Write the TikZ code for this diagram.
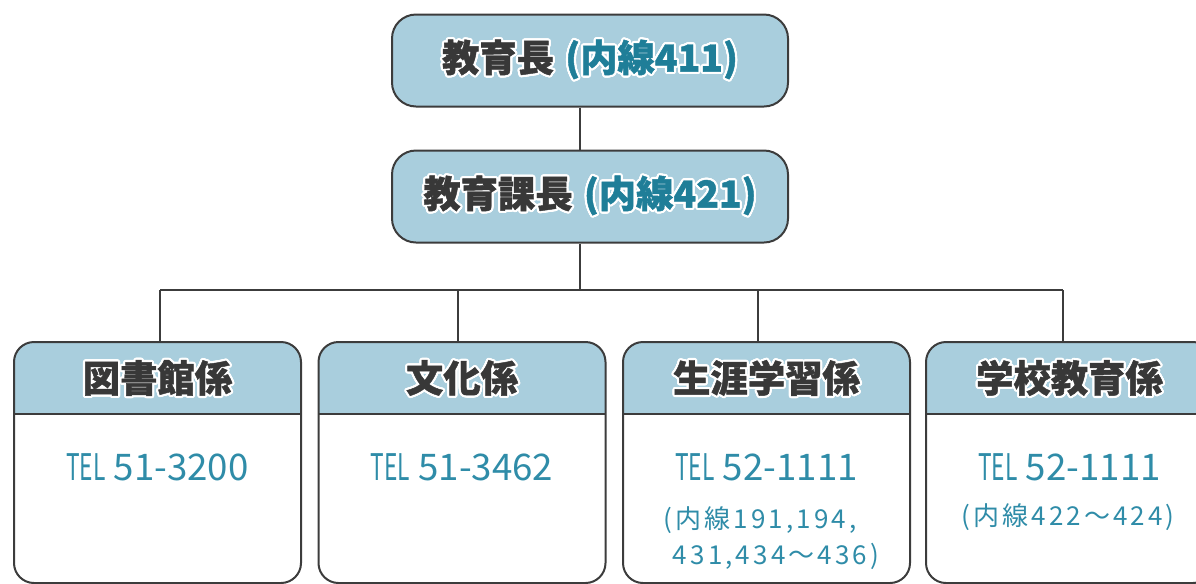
\documentclass[tikz,border=0pt]{standalone}
\usepackage{fontspec}
\usepackage[copies]{contour}
\usepackage{tikz}
\setmainfont{Noto Sans CJK JP}[BoldFeatures={FakeBold=1.2}]
\definecolor{headblue}{HTML}{A9CEDD}
\definecolor{linegray}{HTML}{3C3C3C}
\definecolor{textgray}{HTML}{383838}
\definecolor{extteal}{HTML}{1F7E98}
\definecolor{telteal}{HTML}{2F8CA8}
\contourlength{1.6pt}
\contournumber{20}
\newcommand\halo[2][textgray]{{\color{#1}\contour{white}{#2}}}
\newcommand\extno[1]{\hspace{0.3em}\halo[extteal]{(#1)}}
\newcommand\tel{\scalebox{0.62}[1]{TEL}\ }
\def\unitcorner{15pt}
\tikzset{
	headbox/.style={draw=linegray, fill=headblue, rounded corners=18pt, minimum width=297pt, minimum height=69pt, font=\fontsize{28pt}{28pt}\selectfont\bfseries},
	unitbox/.style={minimum width=213.75pt, minimum height=179.25pt},
	unithead/.style={font=\fontsize{28pt}{28pt}\selectfont\bfseries},
	telline/.style={text=telteal, font=\fontsize{27.5pt}{27.5pt}\selectfont},
	extline/.style={text=telteal, font=\fontsize{19.5pt}{19.5pt}\selectfont\addfontfeature{LetterSpace=12}}
}

\begin{document}
\begin{tikzpicture}[x=0.75pt, y=-0.75pt, line width=1.5pt, draw=linegray]
	\useasboundingbox (0,0) rectangle (1196,583);
	% chief and section head
	\node[headbox] (chief) at (590,60.5) {\halo{教育長}\extno{内線411}};
	\node[headbox] (sub) at (590,196.5) {\halo{教育課長}\extno{内線421}};
	\coordinate (bus) at (580,290);
	\draw ([xshift=-7.5pt]chief.south) -- ([xshift=-7.5pt]sub.north);
	\draw ([xshift=-7.5pt]sub.south) -- (bus);

	% the four units
	\foreach \cx/\dx/\nm/\name/\num in {157.5/1.9pt/u1/図書館係/51-3200, 462/-3pt/u2/文化係/51-3462, 766.5/-6.4pt/u3/生涯学習係/52-1111, 1069.5/-4.9pt/u4/学校教育係/52-1111}{
		\node[unitbox] (\nm) at (\cx,462.5) {};
		\begin{scope}
			\clip[rounded corners=\unitcorner] (\nm.north west) rectangle (\nm.south east);
			\fill[headblue] (\nm.north west) rectangle ([yshift=-54pt]\nm.north east);
		\end{scope}
		\draw ([yshift=-54pt]\nm.north west) -- ([yshift=-54pt]\nm.north east);
		\draw[rounded corners=\unitcorner] (\nm.north west) rectangle (\nm.south east);
		\node[unithead] (\nm-h) at ([yshift=-27.75pt]\nm.north) {\halo{\name}};
		\node[telline] (\nm-t) at ([yshift=-93.75pt]\nm.north) {\tel\num};
		\coordinate (\nm-top) at ([xshift=\dx]\nm.north);
		\draw (\nm-top) -- (\nm-top |- bus);
	}
	\draw (u1-top |- bus) -- (u4-top |- bus);

	% extension numbers
	\node[extline] (u3-e1) at (760,520) {(内線191,194,};
	\node[extline] (u3-e2) at (776,556) {431,434〜436)};
	\node[extline] (u4-e1) at (1068,517) {(内線422〜424)};
\end{tikzpicture}
\end{document}
